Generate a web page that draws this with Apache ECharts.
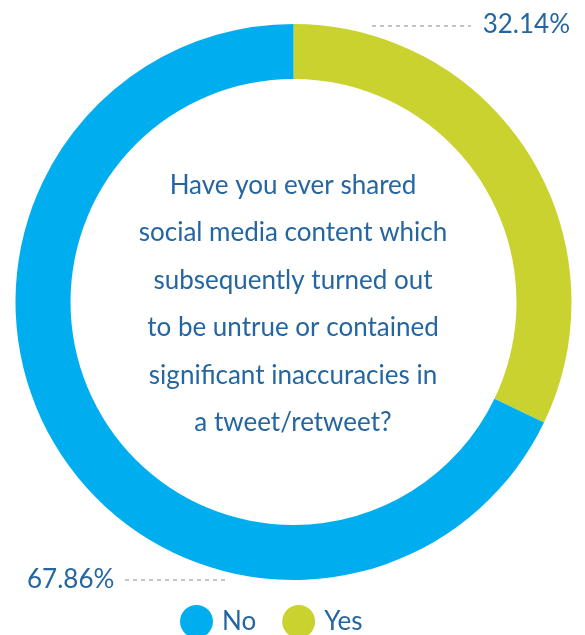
<!DOCTYPE html>
<html>
<head>
<meta charset="utf-8">
<style>
  html, body { margin: 0; padding: 0; background: #ffffff; }
  #chart { width: 585px; height: 635px; }
</style>
<script src="https://cdn.jsdelivr.net/npm/echarts@6/dist/echarts.min.js"></script>
</head>
<body>
<div id="chart"></div>
<script>
// Survey answers (percent of respondents)
const categories = ['Yes', 'No'];
const values = [32.14, 67.86];
const colors = ['#c9d22f', '#00aeef'];
const legendOrder = ['No', 'Yes'];
const question = [
  'Have you ever shared',
  'social media content which',
  'subsequently turned out',
  'to be untrue or contained',
  'significant inaccuracies in',
  'a tweet/retweet?'
];

const textBlue = '#2566a1';
const font = 'Lato, "Open Sans", sans-serif';

// Where each value label and its dashed leader sit
const labelPlacement = {
  Yes: { x: 570, y: 25, align: 'right', line: [[372, 26], [421, 26], [471, 26]] },
  No:  { x: 27, y: 580, align: 'left', line: [[225, 580], [175, 580], [124, 580]] }
};

const chart = echarts.init(document.getElementById('chart'), null, { renderer: 'canvas' });

chart.setOption({
  animation: false,
  color: colors,
  legend: {
    data: legendOrder,
    top: 600,
    left: 175,
    icon: 'circle',
    itemWidth: 33,
    itemHeight: 33,
    itemGap: 26,
    textStyle: { color: textBlue, fontSize: 26, fontFamily: font, padding: [0, 0, 0, 4] }
  },
  graphic: [{
    type: 'text',
    x: 293,
    y: 304,
    style: {
      text: question.join('\n'),
      fill: textBlue,
      font: '26px ' + font,
      lineHeight: 47.5,
      align: 'center',
      verticalAlign: 'middle'
    }
  }],
  series: [{
    type: 'pie',
    center: [293.5, 302],
    radius: [223, 278],
    startAngle: 90,
    clockwise: true,
    silent: true,
    avoidLabelOverlap: false,
    data: categories.map((c, i) => ({ name: c, value: values[i] })),
    label: {
      show: true,
      position: 'outside',
      overflow: 'none',
      color: textBlue,
      fontSize: 26,
      fontFamily: font,
      formatter: p => p.value.toFixed(2) + '%'
    },
    labelLine: {
      show: true,
      lineStyle: { color: '#8a8a8a', width: 1, type: [4, 4] }
    },
    labelLayout: function (params) {
      const name = categories[params.dataIndex];
      const pl = labelPlacement[name];
      return {
        x: pl.x,
        y: pl.y,
        align: pl.align,
        verticalAlign: 'middle',
        labelLinePoints: pl.line
      };
    }
  }]
});
</script>
</body>
</html>
